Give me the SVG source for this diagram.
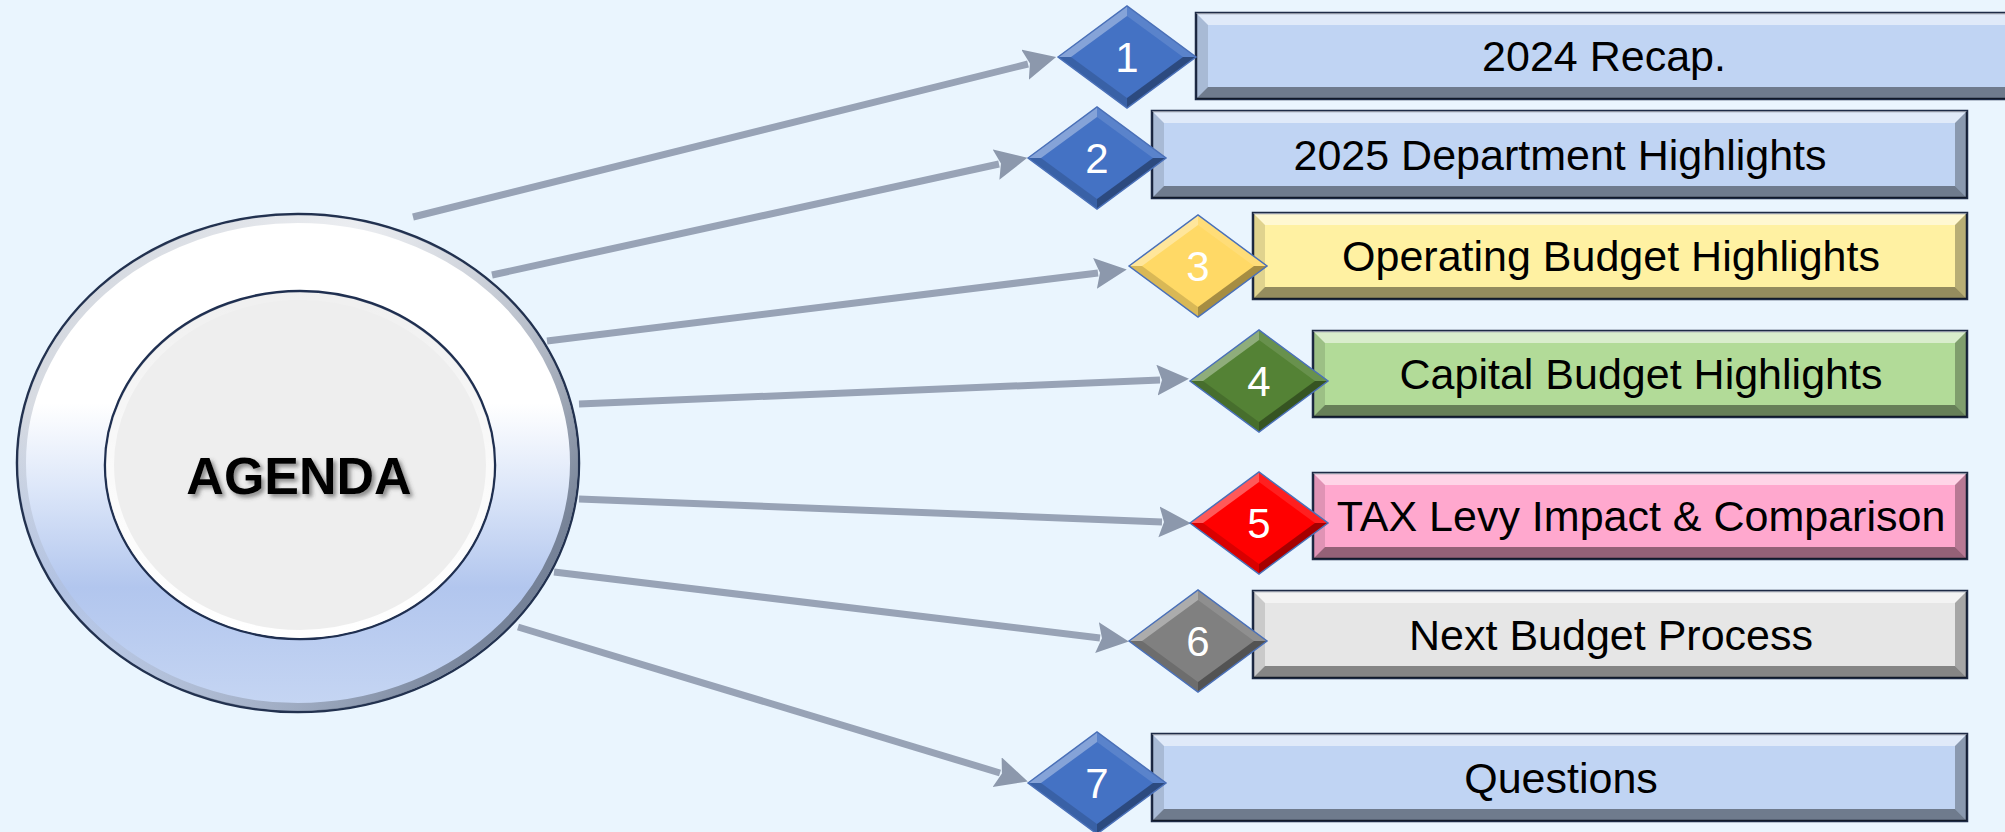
<svg xmlns="http://www.w3.org/2000/svg" width="2005" height="832" viewBox="0 0 2005 832">
<defs>
<style>
.lbl{font-family:"Liberation Sans",Arial,sans-serif;font-size:43px;fill:#000;text-anchor:middle}
.num{font-family:"Liberation Sans",Arial,sans-serif;font-size:42px;fill:#fff;text-anchor:middle}
.box{stroke:#1E2B46;stroke-width:2.5}
.bt{fill:#fff;fill-opacity:.5}
.bl{fill:#000;fill-opacity:.12}
.br{fill:#000;fill-opacity:.28}
.bb{fill:#000;fill-opacity:.42}
.conn{fill:none;stroke:#98A3B6;stroke-width:7;marker-end:url(#ah)}
.blue{fill:#C0D4F3}.yel{fill:#FFF1A2}.grn{fill:#B2DB98}.pnk{fill:#FFA8CE}.gry{fill:#E6E6E6}
</style>
<marker id="ah" markerUnits="userSpaceOnUse" markerWidth="34" markerHeight="32" refX="3" refY="15.5" orient="auto">
<path d="M0,0 L32,15.5 L0,31 L5,15.5 Z" fill="#8C98AC"/>
</marker>
<linearGradient id="outerG" x1="0" y1="0" x2="0" y2="1">
<stop offset="0" stop-color="#FFFFFF"/>
<stop offset="0.38" stop-color="#FFFFFF"/>
<stop offset="0.55" stop-color="#DDE7F9"/>
<stop offset="0.75" stop-color="#B2C6EE"/>
<stop offset="1" stop-color="#C6D6F3"/>
</linearGradient>
<linearGradient id="rimG" x1="0" y1="0" x2="1" y2="0.6">
<stop offset="0" stop-color="#9AA4B5" stop-opacity="0.55"/>
<stop offset="0.45" stop-color="#B0B8C6" stop-opacity="0.25"/>
<stop offset="0.8" stop-color="#8A95A8" stop-opacity="0.65"/>
<stop offset="1" stop-color="#6E7A8E" stop-opacity="0.9"/>
</linearGradient>
<linearGradient id="innerRim" x1="0" y1="0" x2="0" y2="1">
<stop offset="0" stop-color="#FFFFFF" stop-opacity="0.1"/>
<stop offset="0.5" stop-color="#FFFFFF" stop-opacity="0.7"/>
<stop offset="1" stop-color="#FFFFFF" stop-opacity="1"/>
</linearGradient>
<filter id="ts" x="-10%" y="-20%" width="130%" height="160%">
<feDropShadow dx="3" dy="3" stdDeviation="2" flood-color="#444" flood-opacity="0.6"/>
</filter>
<g id="dia">
<path d="M-69,0 L0,-51 L69,0 L0,51 Z"/>
<path d="M-69,0 L0,-51 L0,-41 L-56,0 Z" fill="#fff" fill-opacity=".35"/>
<path d="M0,-51 L69,0 L56,0 L0,-41 Z" fill="#fff" fill-opacity=".12"/>
<path d="M69,0 L0,51 L0,41 L56,0 Z" fill="#000" fill-opacity=".35"/>
<path d="M0,51 L-69,0 L-56,0 L0,41 Z" fill="#000" fill-opacity=".15"/>
<path d="M-69,0 L0,-51 L69,0 L0,51 Z" fill="none" stroke="#4A70B8" stroke-width="1.5"/>
</g>
</defs>
<rect width="2005" height="832" fill="#EAF5FE"/>

<g id="connectors">
<line class="conn" x1="413" y1="217" x2="1028" y2="64"/>
<line class="conn" x1="492" y1="275" x2="999" y2="164"/>
<line class="conn" x1="547" y1="341" x2="1098" y2="273"/>
<line class="conn" x1="579" y1="404" x2="1160" y2="380"/>
<line class="conn" x1="579" y1="499" x2="1162" y2="522"/>
<line class="conn" x1="554" y1="572" x2="1100" y2="638"/>
<line class="conn" x1="518" y1="627" x2="1000" y2="773"/>
</g>

<g id="agenda">
<ellipse cx="298" cy="463" rx="281" ry="249" fill="url(#outerG)" stroke="#22314F" stroke-width="2.5"/>
<ellipse cx="298" cy="463" rx="276" ry="244" fill="none" stroke="url(#rimG)" stroke-width="8"/>
<ellipse cx="300" cy="465" rx="195" ry="174" fill="#EEEEEE" stroke="#1F2F50" stroke-width="2.5"/>
<ellipse cx="300" cy="465" rx="190" ry="169" fill="none" stroke="url(#innerRim)" stroke-width="8"/>
<text x="299" y="494" font-family="Liberation Sans,Arial,sans-serif" font-size="52" font-weight="bold" text-anchor="middle" fill="#000" filter="url(#ts)">AGENDA</text>
</g>

<g id="item1">
<rect class="box blue" x="1196" y="13" width="840" height="86"/>
<polygon class="bt" points="1196,13 2036,13 2024,25 1208,25"/>
<polygon class="bl" points="1196,13 1208,25 1208,87 1196,99"/>
<polygon class="bb" points="1196,99 2036,99 2024,87 1208,87"/>
<text class="lbl" x="1604" y="71">2024 Recap.</text>
<use href="#dia" x="1127" y="57" fill="#4472C4"/>
<text class="num" x="1127" y="72">1</text>
</g>

<g id="item2">
<rect class="box blue" x="1152" y="111" width="815" height="87"/>
<polygon class="bt" points="1152,111 1967,111 1955,123 1164,123"/>
<polygon class="bl" points="1152,111 1164,123 1164,186 1152,198"/>
<polygon class="br" points="1967,111 1955,123 1955,186 1967,198"/>
<polygon class="bb" points="1152,198 1967,198 1955,186 1164,186"/>
<text class="lbl" x="1560" y="170">2025 Department Highlights</text>
<use href="#dia" x="1097" y="158" fill="#4472C4"/>
<text class="num" x="1097" y="173">2</text>
</g>

<g id="item3">
<rect class="box yel" x="1253" y="213" width="714" height="86"/>
<polygon class="bt" points="1253,213 1967,213 1955,225 1265,225"/>
<polygon class="bl" points="1253,213 1265,225 1265,287 1253,299"/>
<polygon class="br" points="1967,213 1955,225 1955,287 1967,299"/>
<polygon class="bb" points="1253,299 1967,299 1955,287 1265,287"/>
<text class="lbl" x="1611" y="271">Operating Budget Highlights</text>
<use href="#dia" x="1198" y="266" fill="#FFD966"/>
<text class="num" x="1198" y="281">3</text>
</g>

<g id="item4">
<rect class="box grn" x="1313" y="331" width="654" height="86"/>
<polygon class="bt" points="1313,331 1967,331 1955,343 1325,343"/>
<polygon class="bl" points="1313,331 1325,343 1325,405 1313,417"/>
<polygon class="br" points="1967,331 1955,343 1955,405 1967,417"/>
<polygon class="bb" points="1313,417 1967,417 1955,405 1325,405"/>
<text class="lbl" x="1641" y="389">Capital Budget Highlights</text>
<use href="#dia" x="1259" y="381" fill="#548235"/>
<text class="num" x="1259" y="396">4</text>
</g>

<g id="item5">
<rect class="box pnk" x="1313" y="473" width="654" height="86"/>
<polygon class="bt" points="1313,473 1967,473 1955,485 1325,485"/>
<polygon class="bl" points="1313,473 1325,485 1325,547 1313,559"/>
<polygon class="br" points="1967,473 1955,485 1955,547 1967,559"/>
<polygon class="bb" points="1313,559 1967,559 1955,547 1325,547"/>
<text class="lbl" x="1641" y="531">TAX Levy Impact &amp; Comparison</text>
<use href="#dia" x="1259" y="523" fill="#FF0000"/>
<text class="num" x="1259" y="538">5</text>
</g>

<g id="item6">
<rect class="box gry" x="1253" y="591" width="714" height="87"/>
<polygon class="bt" points="1253,591 1967,591 1955,603 1265,603"/>
<polygon class="bl" points="1253,591 1265,603 1265,666 1253,678"/>
<polygon class="br" points="1967,591 1955,603 1955,666 1967,678"/>
<polygon class="bb" points="1253,678 1967,678 1955,666 1265,666"/>
<text class="lbl" x="1611" y="650">Next Budget Process</text>
<use href="#dia" x="1198" y="641" fill="#808080"/>
<text class="num" x="1198" y="656">6</text>
</g>

<g id="item7">
<rect class="box blue" x="1152" y="734" width="815" height="87"/>
<polygon class="bt" points="1152,734 1967,734 1955,746 1164,746"/>
<polygon class="bl" points="1152,734 1164,746 1164,809 1152,821"/>
<polygon class="br" points="1967,734 1955,746 1955,809 1967,821"/>
<polygon class="bb" points="1152,821 1967,821 1955,809 1164,809"/>
<text class="lbl" x="1561" y="793">Questions</text>
<use href="#dia" x="1097" y="783" fill="#4472C4"/>
<text class="num" x="1097" y="798">7</text>
</g>
</svg>
